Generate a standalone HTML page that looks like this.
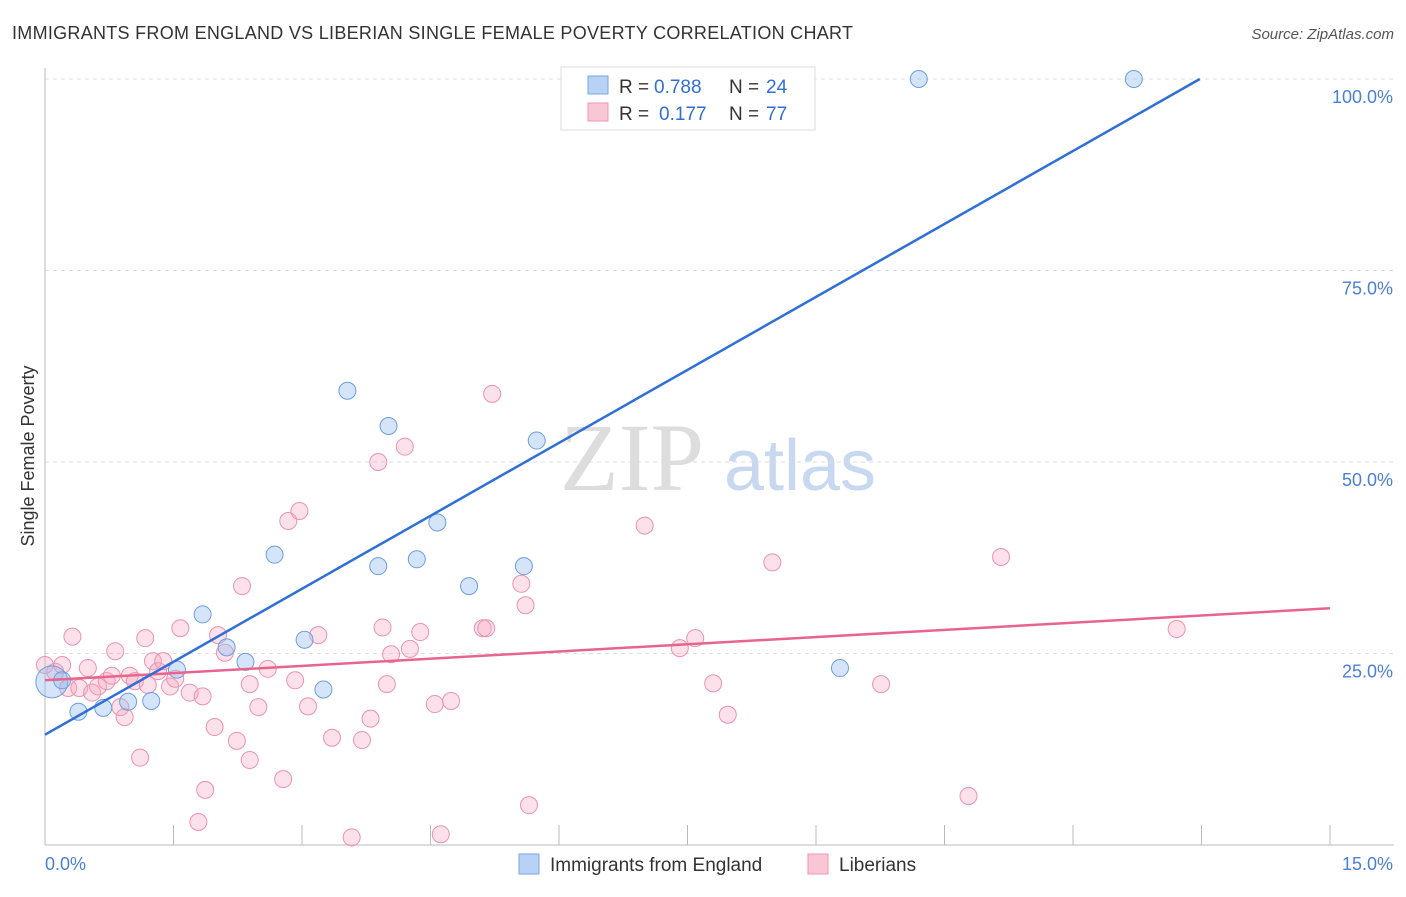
<!DOCTYPE html>
<html><head><meta charset="utf-8"><style>
body{margin:0;background:#fff;font-family:"Liberation Sans",sans-serif}
</style></head><body>
<svg id="chart" width="1406" height="892" xmlns="http://www.w3.org/2000/svg" font-family="Liberation Sans, sans-serif">
<text x="12" y="39" font-size="18" fill="#333" textLength="841">IMMIGRANTS FROM ENGLAND VS LIBERIAN SINGLE FEMALE POVERTY CORRELATION CHART</text>
<text x="1394" y="39" font-size="15" fill="#555" text-anchor="end" font-style="italic">Source: ZipAtlas.com</text>
<text transform="translate(34,456) rotate(-90)" font-size="18" fill="#333" text-anchor="middle">Single Female Poverty</text>
<g><text x="632" y="490" font-size="96" fill="#ddd" text-anchor="middle" font-family="Liberation Serif, serif">ZIP</text><text x="800" y="490" font-size="72" fill="#c7d8f0" text-anchor="middle">atlas</text></g>
<g id="grid"></g><g id="axes"></g><g id="marks"></g>
<g>
<rect x="561" y="67" width="254" height="63" fill="#fff" stroke="#ddd"/>
<rect x="588" y="76" width="20" height="18" fill="#b8d2f5" stroke="#7aa5e0"/>
<rect x="588" y="103" width="20" height="18" fill="#f9c6d5" stroke="#ec97b0"/>
<text x="619" y="93" font-size="19" fill="#333">R =</text><text x="654" y="93" font-size="19" fill="#2f6fd6">0.788</text>
<text x="729" y="93" font-size="19" fill="#333">N =</text><text x="766" y="93" font-size="19" fill="#2f6fd6">24</text>
<text x="619" y="120" font-size="19" fill="#333">R =</text><text x="659" y="120" font-size="19" fill="#2f6fd6">0.177</text>
<text x="729" y="120" font-size="19" fill="#333">N =</text><text x="766" y="120" font-size="19" fill="#2f6fd6">77</text>
</g>
<g>
<rect x="519" y="854" width="20" height="20" fill="#b8d2f5" stroke="#7aa5e0"/>
<text x="550" y="871" font-size="19" fill="#333">Immigrants from England</text>
<rect x="808" y="854" width="20" height="20" fill="#f9c6d5" stroke="#ec97b0"/>
<text x="839" y="871" font-size="19" fill="#333">Liberians</text>
</g>
</svg>
<script>
const yTicks=[25,50,75,100];
const yTickLabels=["25.0%","50.0%","75.0%","100.0%"];
const blueX=[0.08,0.2,0.39,0.68,0.97,1.24,1.54,1.84,2.12,2.34,2.68,3.03,3.25,3.53,3.89,4.01,4.34,4.58,4.95,5.59,5.74,9.28,10.2,12.71];
const blueY=[21.3,21.5,17.4,17.9,18.7,18.8,22.9,30.1,25.8,23.9,37.9,26.8,20.3,59.3,36.4,54.7,37.3,42.1,33.8,36.4,52.8,23.1,100,100];
const pinkX=[0,0.12,0.2,0.27,0.32,0.4,0.5,0.55,0.62,0.72,0.78,0.82,0.88,0.93,0.99,1.05,1.11,1.17,1.2,1.26,1.32,1.38,1.46,1.52,1.58,1.69,1.79,1.84,1.87,1.98,2.02,2.1,2.24,2.3,2.39,2.39,2.49,2.6,2.78,2.84,2.92,2.97,3.07,3.19,3.35,3.58,3.7,3.8,3.89,3.94,3.99,4.04,4.2,4.26,4.38,4.55,4.62,4.74,5.11,5.15,5.22,5.56,5.61,5.65,7.0,7.41,7.59,7.8,7.97,8.49,9.76,10.78,11.16,13.21];
const pinkY=[23.5,22.6,23.5,20.5,27.2,20.5,23.1,19.9,20.7,21.4,22.1,25.3,18.0,16.7,22.1,21.4,11.4,27.0,20.9,24.0,22.7,24.0,20.7,21.7,28.3,19.9,3.0,19.4,7.2,15.4,27.4,25.1,13.6,33.8,21.0,11.1,18.0,23.0,8.6,42.3,21.5,43.6,18.1,27.4,14.0,1.0,13.7,16.5,50.0,28.4,21.0,24.9,52.0,25.6,27.8,18.4,1.4,18.8,28.3,28.3,58.9,34.1,31.3,5.2,41.7,25.7,27.0,21.1,17.0,36.9,21.0,6.4,37.6,28.2];
const blueTrend=[14.4,6.35];
const pinkTrend=[21.5,0.627];
const svg=document.getElementById('chart');const NS='http://www.w3.org/2000/svg';
const X0=45,X1=1330,Y0=845,Y1=79;
const sx=v=>X0+(v/15)*(X1-X0), sy=v=>Y0-(v/100)*(Y0-Y1);
function mk(t,a,p){const e=document.createElementNS(NS,t);for(const k in a)e.setAttribute(k,a[k]);p.appendChild(e);return e;}
const grid=document.getElementById('grid'),axes=document.getElementById('axes'),marks=document.getElementById('marks');
yTicks.forEach((t,i)=>{const l=mk('line',{x1:X0,x2:1394,y1:sy(t),y2:sy(t),stroke:'#ddd','stroke-dasharray':'4,4'},grid);


const tx=mk('text',{x:1393,y:sy(t)+24,'font-size':18,fill:'#4a7fd6','text-anchor':'end'},axes);tx.textContent=yTickLabels[i];

});
const ax=mk('line',{x1:X0,x2:X0,y1:68,y2:Y0,stroke:'#bbb'},axes);


const bx=mk('line',{x1:X0,x2:1394,y1:Y0,y2:Y0,stroke:'#bbb'},axes);


for(let i=1;i<=10;i++){const t=mk('line',{x1:sx(i*1.5),x2:sx(i*1.5),y1:Y0-20,y2:Y0,stroke:'#bbb'},axes);

}
const xl=mk('text',{x:45,y:870,'font-size':18,fill:'#4a7fd6'},axes);xl.textContent='0.0%';


const xr=mk('text',{x:1393,y:870,'font-size':18,fill:'#4a7fd6','text-anchor':'end'},axes);xr.textContent='15.0%';


pinkX.forEach((x,i)=>{const c=mk('circle',{cx:sx(x),cy:sy(pinkY[i]),r:8.5,fill:'rgba(246,170,195,0.35)',stroke:'#eb93ae','stroke-width':1},marks);

});
blueX.forEach((x,i)=>{const c=mk('circle',{cx:sx(x),cy:sy(blueY[i]),r:i===0?16:8.5,fill:'rgba(150,190,240,0.4)',stroke:'#6e9de0','stroke-width':1},marks);

});
const [pa,pb]=pinkTrend;
const pl=mk('line',{x1:sx(0),y1:sy(pa),x2:sx(15),y2:sy(pa+pb*15),stroke:'#e8648e','stroke-width':2.5},marks);


const [ba,bb]=blueTrend;const xEnd=Math.min(15,(100-ba)/bb);
const bl=mk('line',{x1:sx(0),y1:sy(ba),x2:sx(xEnd),y2:sy(ba+bb*xEnd),stroke:'#2f6fd6','stroke-width':2.5},marks);


</script>
</body></html>
